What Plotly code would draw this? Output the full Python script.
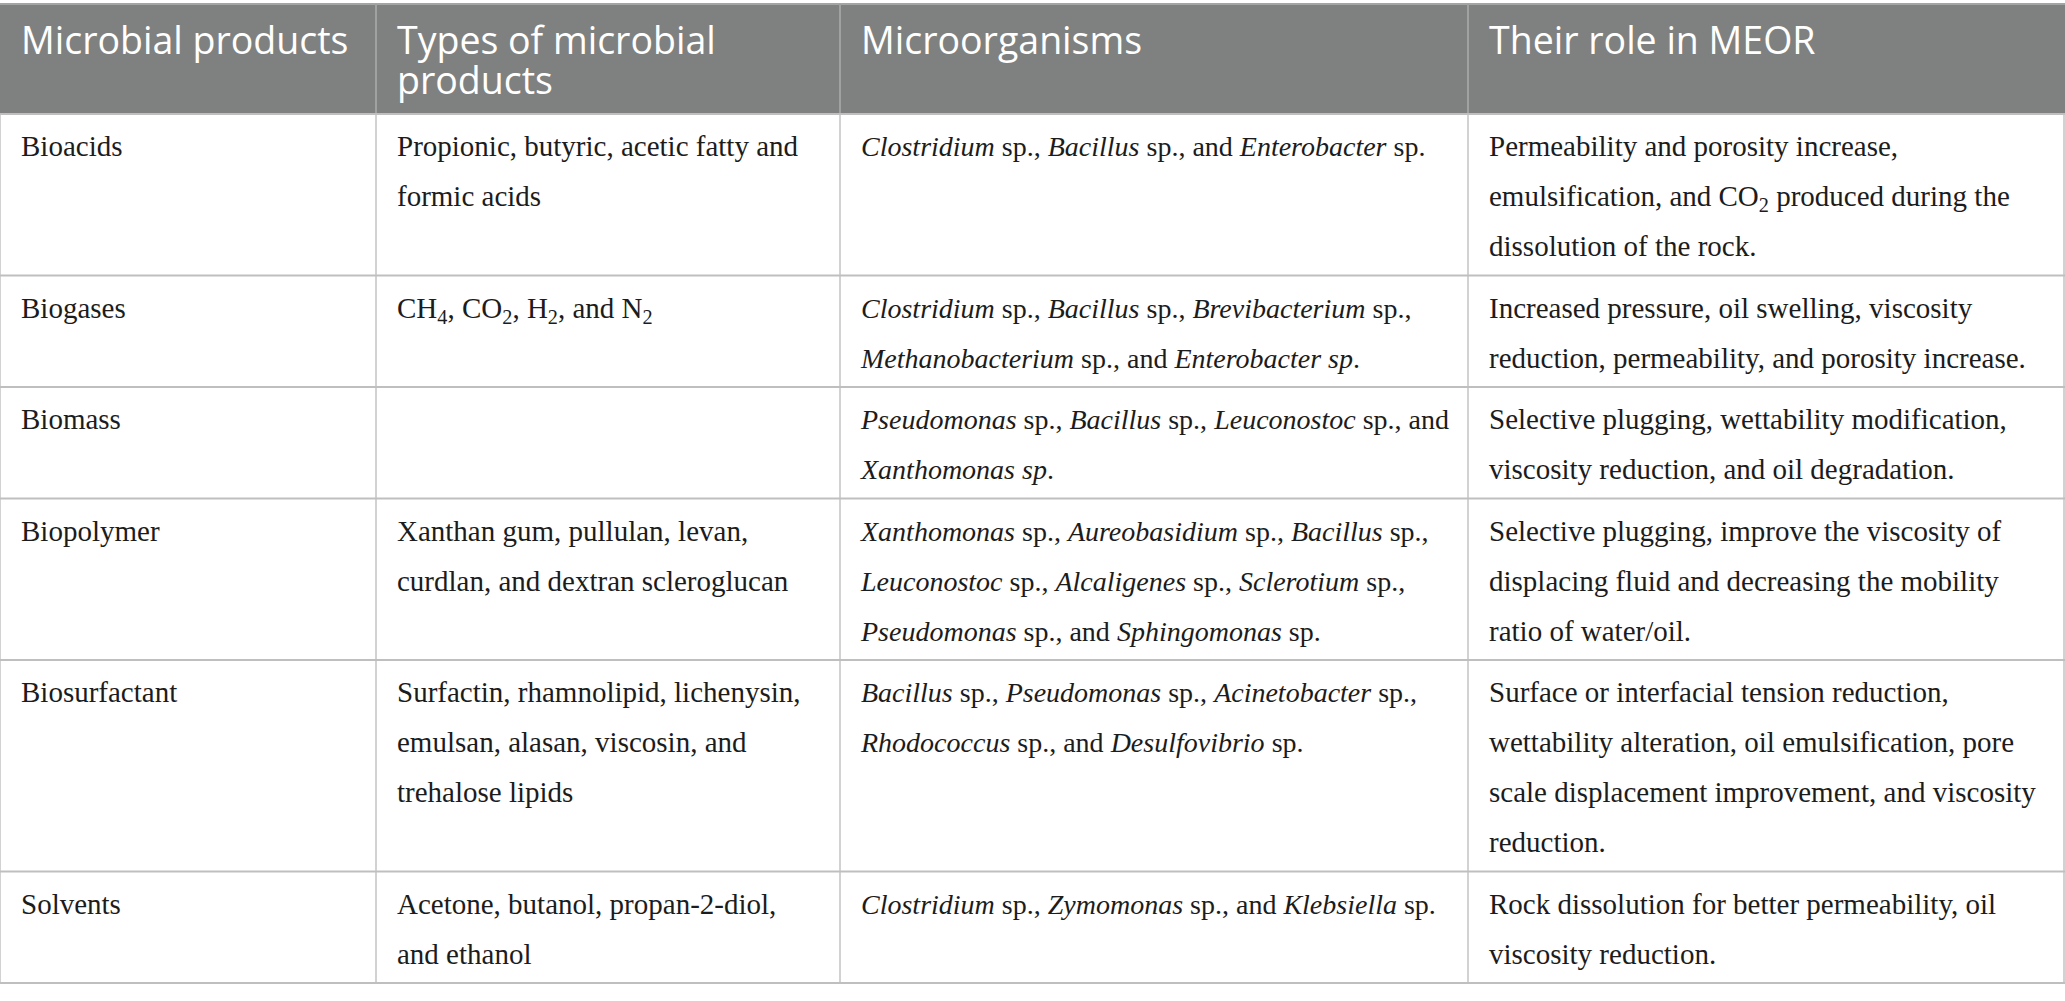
import plotly.graph_objects as go

# table content (line breaks follow the reference wrapping)
headers = ["Microbial products", "Types of microbial<br>products", "Microorganisms", "Their role in MEOR"]

products = ["Bioacids", "Biogases", "Biomass", "Biopolymer", "Biosurfactant", "Solvents"]

product_types = [
    "Propionic, butyric, acetic fatty and<br>formic acids",
    "CH<sub>4</sub>, CO<sub>2</sub>, H<sub>2</sub>, and N<sub>2</sub>",
    "",
    "Xanthan gum, pullulan, levan,<br>curdlan, and dextran scleroglucan",
    "Surfactin, rhamnolipid, lichenysin,<br>emulsan, alasan, viscosin, and<br>trehalose lipids",
    "Acetone, butanol, propan-2-diol,<br>and ethanol",
]

microorganisms = [
    "<i>Clostridium</i> sp., <i>Bacillus</i> sp., and <i>Enterobacter</i> sp.",
    "<i>Clostridium</i> sp., <i>Bacillus</i> sp., <i>Brevibacterium</i> sp.,<br>"
    "<i>Methanobacterium</i> sp., and <i>Enterobacter sp</i>.",
    "<i>Pseudomonas</i> sp., <i>Bacillus</i> sp., <i>Leuconostoc</i> sp., and<br><i>Xanthomonas sp</i>.",
    "<i>Xanthomonas</i> sp., <i>Aureobasidium</i> sp., <i>Bacillus</i> sp.,<br>"
    "<i>Leuconostoc</i> sp., <i>Alcaligenes</i> sp., <i>Sclerotium</i> sp.,<br>"
    "<i>Pseudomonas</i> sp., and <i>Sphingomonas</i> sp.",
    "<i>Bacillus</i> sp., <i>Pseudomonas</i> sp., <i>Acinetobacter</i> sp.,<br>"
    "<i>Rhodococcus</i> sp., and <i>Desulfovibrio</i> sp.",
    "<i>Clostridium</i> sp., <i>Zymomonas</i> sp., and <i>Klebsiella</i> sp.",
]

roles = [
    "Permeability and porosity increase,<br>emulsification, and CO<sub>2</sub> produced during the<br>"
    "dissolution of the rock.",
    "Increased pressure, oil swelling, viscosity<br>reduction, permeability, and porosity increase.",
    "Selective plugging, wettability modification,<br>viscosity reduction, and oil degradation.",
    "Selective plugging, improve the viscosity of<br>displacing fluid and decreasing the mobility<br>"
    "ratio of water/oil.",
    "Surface or interfacial tension reduction,<br>wettability alteration, oil emulsification, pore<br>"
    "scale displacement improvement, and viscosity<br>reduction.",
    "Rock dissolution for better permeability, oil<br>viscosity reduction.",
]

# layout of the grid (pixels)
W, H = 2065, 1001
col_edges = [0, 376, 840, 1468, 2064]
head_top, head_bot = 4, 114
pad_x = 21
line_gap = 50
first_base = 45
col_fs = [29, 29, 28, 29]   # italic-heavy column set a touch smaller
head_fs = 37.5
head_gap = 40
head_base = 58

columns = [products, product_types, microorganisms, roles]
n_lines = [max(len(c[i].split("<br>")) for c in columns) for i in range(len(products))]
row_edges = [head_bot]
for n in n_lines:
    row_edges.append(row_edges[-1] + line_gap * n + 11.5)

# body text positions
bx, by, bt, bs = [], [], [], []
for i in range(len(products)):
    for j, col in enumerate(columns):
        for k, line in enumerate(col[i].split("<br>")):
            if not line:
                continue
            bx.append(col_edges[j] + pad_x)
            by.append(row_edges[i] + first_base + line_gap * k - 0.35 * col_fs[j])
            bt.append(line)
            bs.append(col_fs[j])

hx, hy, ht = [], [], []
for j, h in enumerate(headers):
    for k, line in enumerate(h.split("<br>")):
        hx.append(col_edges[j] + pad_x)
        hy.append(head_base + head_gap * k - 0.35 * head_fs)
        ht.append(line)

fig = go.Figure()
fig.add_trace(go.Scatter(
    x=bx, y=by, text=bt, mode="text", textposition="middle right",
    textfont=dict(family="Liberation Serif", size=bs, color="#1c1c1c"),
    hoverinfo="skip", showlegend=False,
))
fig.add_trace(go.Scatter(
    x=hx, y=hy, text=ht, mode="text", textposition="middle right",
    textfont=dict(family="Open Sans", size=head_fs, color="#ffffff"),
    hoverinfo="skip", showlegend=False,
))

shapes = []
# header band
shapes.append(dict(type="rect", x0=0, x1=col_edges[-1] + 1, y0=head_top, y1=head_bot,
                   fillcolor="#7f8180", line=dict(width=0), layer="below"))
shapes.append(dict(type="line", x0=0, x1=col_edges[-1] + 1, y0=head_top, y1=head_top,
                   line=dict(color="#a3a4a4", width=2)))
for x in col_edges[1:-1]:
    shapes.append(dict(type="line", x0=x, x1=x, y0=head_top, y1=head_bot,
                       line=dict(color="#a0a1a1", width=2)))
# body grid
for x in col_edges:
    shapes.append(dict(type="line", x0=x, x1=x, y0=head_bot, y1=row_edges[-1],
                       line=dict(color="#d2d2d2", width=2)))
for y in row_edges:
    shapes.append(dict(type="line", x0=0, x1=col_edges[-1] + 1, y0=y, y1=y,
                       line=dict(color="#bfbfbf", width=2)))

fig.update_layout(
    width=W, height=H,
    margin=dict(l=0, r=0, t=0, b=0),
    paper_bgcolor="white", plot_bgcolor="white",
    xaxis=dict(range=[0, W], visible=False, fixedrange=True),
    yaxis=dict(range=[H, 0], visible=False, fixedrange=True),
    shapes=shapes,
)

# drop the default page margin so the figure sits at the window corner
fig.write_html("out.html", config={"displayModeBar": False},
               post_script="document.body.style.margin='0';")
